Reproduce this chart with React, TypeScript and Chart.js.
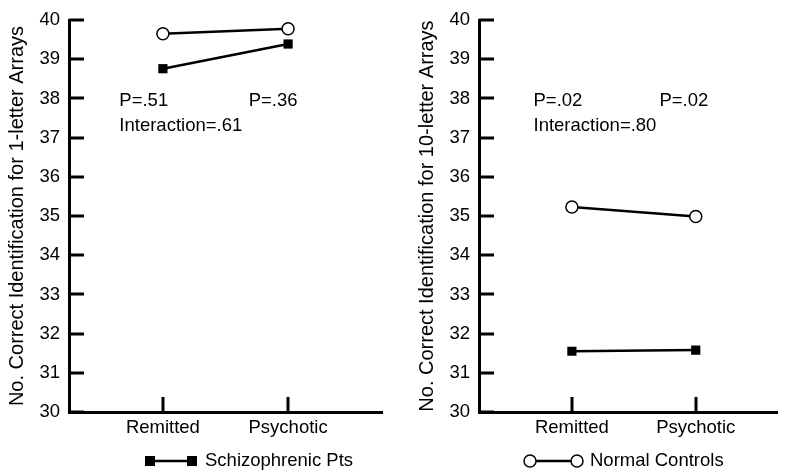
import React, { useEffect, useRef } from "react";
import { Chart, registerables } from "chart.js";

Chart.register(...registerables);

// ---- data ----
const groups = ["Remitted", "Psychotic"];
const groupX = [1, 2];
const schizoOne = [38.76, 39.39];
const normalOne = [39.65, 39.78];
const schizoTen = [31.55, 31.58];
const normalTen = [35.23, 34.99];
const titleOne = "No. Correct Identification for 1-letter Arrays";
const titleTen = "No. Correct Identification for 10-letter Arrays";
const notesOneText = ["P=.51", "P=.36", "Interaction=.61"];
const notesOneX = [0.652, 1.685, 0.652];
const notesOneY = [37.93, 37.93, 37.31];
const notesTenText = ["P=.02", "P=.02", "Interaction=.80"];
const notesTenX = [0.69, 1.707, 0.69];
const notesTenY = [37.93, 37.93, 37.31];
const legendSchizo = "Schizophrenic Pts";
const legendNormal = "Normal Controls";

const FONT = "'Liberation Sans', Arial, Helvetica, sans-serif";

type PanelCfg = {
  schizo: number[];
  normal: number[];
  title: string;
  notesText: string[];
  notesX: number[];
  notesY: number[];
  xMax: number;
  padRight: number;
  legendText: string;
  legendStyle: "rect" | "circle";
  legendX0: number;
  legendX1: number;
  legendTextX: number;
};

function drawMarker(ctx: CanvasRenderingContext2D, style: string, x: number, y: number) {
  if (style === "rect") {
    ctx.fillStyle = "#000";
    ctx.fillRect(x - 5, y - 5, 10, 10);
  } else {
    ctx.beginPath();
    ctx.arc(x, y, 6, 0, Math.PI * 2);
    ctx.fillStyle = "#fff";
    ctx.fill();
    ctx.lineWidth = 1.5;
    ctx.strokeStyle = "#000";
    ctx.stroke();
  }
}

function makeDecor(cfg: PanelCfg) {
  return {
    id: "decor",
    afterDraw(chart: any) {
      const ctx: CanvasRenderingContext2D = chart.ctx;
      const xs = chart.scales.x;
      const ys = chart.scales.y;
      const area = chart.chartArea;
      ctx.save();
      ctx.strokeStyle = "#000";
      ctx.lineWidth = 3;
      ctx.lineCap = "butt";
      ys.ticks.forEach((t: any) => {
        const py = Math.round(ys.getPixelForValue(t.value));
        ctx.beginPath();
        ctx.moveTo(area.left, py);
        ctx.lineTo(area.left + 15, py);
        ctx.stroke();
      });
      xs.ticks.forEach((t: any) => {
        const px = Math.round(xs.getPixelForValue(t.value));
        ctx.beginPath();
        ctx.moveTo(px, area.bottom);
        ctx.lineTo(px, area.bottom - 15);
        ctx.stroke();
      });
      // annotations
      ctx.fillStyle = "#000";
      ctx.font = `18.5px ${FONT}`;
      ctx.textBaseline = "middle";
      ctx.textAlign = "left";
      cfg.notesText.forEach((txt, i) => {
        ctx.fillText(txt, xs.getPixelForValue(cfg.notesX[i]), ys.getPixelForValue(cfg.notesY[i]));
      });
      // legend
      const ly = 461;
      ctx.beginPath();
      ctx.lineWidth = 2.5;
      ctx.moveTo(cfg.legendX0, ly);
      ctx.lineTo(cfg.legendX1, ly);
      ctx.stroke();
      drawMarker(ctx, cfg.legendStyle, cfg.legendX0, ly);
      drawMarker(ctx, cfg.legendStyle, cfg.legendX1, ly);
      ctx.fillStyle = "#000";
      ctx.font = `18.5px ${FONT}`;
      ctx.textBaseline = "middle";
      ctx.textAlign = "left";
      ctx.fillText(cfg.legendText, cfg.legendTextX, ly);
      ctx.restore();
    },
  };
}

function Panel({ left, width, cfg }: { left: number; width: number; cfg: PanelCfg }) {
  const ref = useRef<HTMLCanvasElement | null>(null);
  useEffect(() => {
    if (!ref.current) return;
    const toPts = (vals: number[]) => vals.map((v, i) => ({ x: groupX[i], y: v }));
    const chart = new Chart(ref.current, {
      type: "line",
      data: {
        datasets: [
          {
            label: "Normal Controls",
            data: toPts(cfg.normal),
            borderColor: "#000",
            borderWidth: 2.5,
            pointStyle: "circle",
            pointRadius: 6,
            pointBorderWidth: 1.5,
            pointBackgroundColor: "#fff",
            pointBorderColor: "#000",
            tension: 0,
          },
          {
            label: "Schizophrenic Pts",
            data: toPts(cfg.schizo),
            borderColor: "#000",
            borderWidth: 2.5,
            pointStyle: "rect",
            pointRadius: 6.5,
            pointBorderWidth: 0,
            pointBackgroundColor: "#000",
            pointBorderColor: "#000",
            tension: 0,
          },
        ],
      },
      options: {
        responsive: false,
        animation: false,
        events: [],
        layout: { padding: { left: 0, right: cfg.padRight, top: 16, bottom: 0 } },
        plugins: {
          legend: { display: false },
          tooltip: { enabled: false },
        },
        scales: {
          x: {
            type: "linear",
            min: 0.25,
            max: cfg.xMax,
            afterBuildTicks: (s: any) => {
              s.ticks = groupX.map((v) => ({ value: v }));
            },
            afterFit: (s: any) => {
              s.height = 59;
            },
            grid: { display: true, drawOnChartArea: false, drawTicks: false },
            border: { display: true, color: "#000", width: 3 },
            ticks: {
              color: "#000",
              font: { family: FONT, size: 18.5 },
              padding: 5,
              autoSkip: false,
              maxRotation: 0,
              callback: (v: any) => {
                const i = groupX.indexOf(Number(v));
                return i >= 0 ? groups[i] : "";
              },
            },
          },
          y: {
            type: "linear",
            min: 30,
            max: 40,
            afterFit: (s: any) => {
              s.width = 69;
            },
            grid: { display: true, drawOnChartArea: false, drawTicks: false },
            border: { display: true, color: "#000", width: 3 },
            ticks: {
              stepSize: 1,
              color: "#000",
              font: { family: FONT, size: 18.5 },
              padding: 9,
            },
            title: {
              display: true,
              text: cfg.title,
              color: "#000",
              font: { family: FONT, size: 20 },
              padding: { top: 5, bottom: 0 },
            },
          },
        },
      },
      plugins: [makeDecor(cfg)],
    } as any);
    return () => chart.destroy();
  }, []);
  return (
    <canvas
      ref={ref}
      width={width}
      height={471}
      style={{ position: "absolute", left, top: 0, display: "block" }}
    />
  );
}

const leftCfg: PanelCfg = {
  schizo: schizoOne,
  normal: normalOne,
  title: titleOne,
  notesText: notesOneText,
  notesX: notesOneX,
  notesY: notesOneY,
  xMax: 2.75,
  padRight: 18,
  legendText: legendSchizo,
  legendStyle: "rect",
  legendX0: 150,
  legendX1: 192,
  legendTextX: 205,
};

const rightCfg: PanelCfg = {
  schizo: schizoTen,
  normal: normalTen,
  title: titleTen,
  notesText: notesTenText,
  notesX: notesTenX,
  notesY: notesTenY,
  xMax: 2.66,
  padRight: 0,
  legendText: legendNormal,
  legendStyle: "circle",
  legendX0: 120,
  legendX1: 167,
  legendTextX: 180,
};

export default function App() {
  return (
    <div
      style={{
        position: "fixed",
        left: 0,
        top: 0,
        width: 785,
        height: 471,
        background: "#fff",
        overflow: "hidden",
      }}
    >
      <Panel left={0} width={400} cfg={leftCfg} />
      <Panel left={410} width={375} cfg={rightCfg} />
    </div>
  );
}
